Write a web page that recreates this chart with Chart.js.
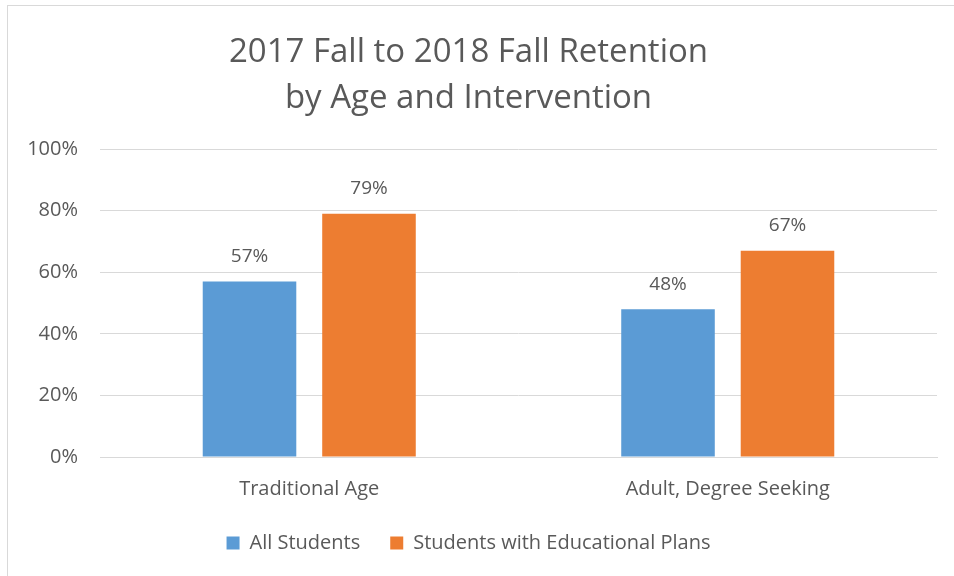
<!DOCTYPE html>
<html>
<head>
<meta charset="utf-8">
<script src="https://cdn.jsdelivr.net/npm/chart.js@4"></script>
<style>
  body { margin: 0; background: #fff; }
  #wrap { position: absolute; left: 0; top: 0; width: 954px; height: 576px; }
  #frame { position: absolute; left: 7px; top: 5px; width: 947px; height: 571px;
           border-left: 1px solid #d9d9d9; border-top: 1px solid #d9d9d9; pointer-events: none; }
</style>
</head>
<body>
<div id="wrap">
  <canvas id="chart" width="954" height="576"></canvas>
  <div id="frame"></div>
</div>
<script>
const categories = ['Traditional Age', 'Adult, Degree Seeking'];
const allStudents = [57, 48];
const eduPlans = [79, 67];
const seriesNames = ['All Students', 'Students with Educational Plans'];
const titleLines = ['2017 Fall to 2018 Fall Retention', 'by Age and Intervention'];

const FONT = '"Open Sans", Lato, sans-serif';
const TEXT = '#595959';

// value labels above each bar
const barLabels = {
  id: 'barLabels',
  afterDatasetsDraw(chart) {
    const ctx = chart.ctx;
    ctx.save();
    ctx.font = '19px ' + FONT;
    ctx.fillStyle = TEXT;
    ctx.textAlign = 'center';
    ctx.textBaseline = 'middle';
    chart.data.datasets.forEach((ds, i) => {
      chart.getDatasetMeta(i).data.forEach((bar, j) => {
        ctx.fillText(ds.data[j] + '%', bar.x, bar.y - 25);
      });
    });
    ctx.restore();
  }
};

new Chart(document.getElementById('chart'), {
  type: 'bar',
  data: {
    labels: categories,
    datasets: [
      { label: seriesNames[0], data: allStudents, backgroundColor: '#5B9BD5' },
      { label: seriesNames[1], data: eduPlans, backgroundColor: '#ED7D31' }
    ]
  },
  options: {
    responsive: false,
    animation: false,
    layout: { padding: { left: 0, right: 17, top: 30, bottom: 13 } },
    categoryPercentage: 0.571,
    barPercentage: 0.783,
    plugins: {
      title: {
        display: true,
        text: titleLines,
        color: TEXT,
        font: { family: FONT, size: 33, weight: 'normal', lineHeight: 1.394 },
        padding: { top: 0, bottom: 27 }
      },
      legend: {
        position: 'bottom',
        labels: {
          color: TEXT,
          font: { family: FONT, size: 20 },
          boxWidth: 13, boxHeight: 13, padding: 30
        }
      },
      tooltip: { enabled: false }
    },
    scales: {
      x: {
        afterFit(scale) { scale.height -= 18; },
        grid: { display: false, drawTicks: false },
        border: { color: '#d9d9d9' },
        ticks: { color: TEXT, font: { family: FONT, size: 20 }, padding: 20 }
      },
      y: {
        min: 0, max: 100,
        afterFit(scale) { scale.width = 100; },
        grid: { color: '#d9d9d9', drawTicks: false },
        border: { display: false },
        ticks: {
          stepSize: 20, padding: 22, color: TEXT,
          font: { family: FONT, size: 20 },
          callback: v => v + '%'
        }
      }
    }
  },
  plugins: [barLabels]
});
</script>
</body>
</html>
